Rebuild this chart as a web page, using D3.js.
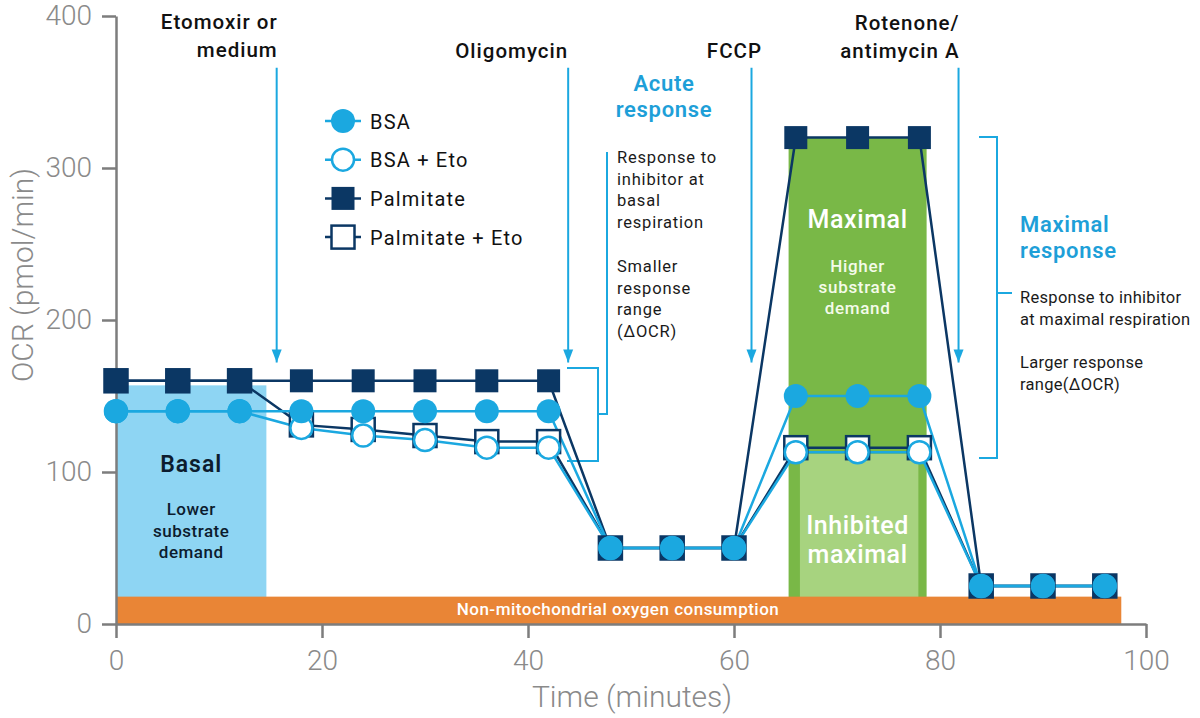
<!DOCTYPE html>
<html><head><meta charset="utf-8">
<script src="https://cdn.jsdelivr.net/npm/d3@7"></script>
<style>
html,body{margin:0;padding:0;background:#fff;}
svg{display:block;font-family:Roboto,"Noto Sans",sans-serif;}
</style></head>
<body>
<svg id="chart" width="1200" height="718"></svg>
<script>
// ---- data ----
const times = [0,6,12,18,24,30,36,42,48,54,60,66,72,78,84,90,96];
const bsa     = [140,140,140,140,140,140,140,140,50,50,50,150,150,150,25,25,25];
const bsaEto  = [140,140,140,129,124,121,116,116,50,50,50,113,113,113,25,25,25];
const palm    = [160,160,160,160,160,160,160,160,50,50,50,320,320,320,25,25,25];
const palmEto = [160,160,160,131,128,124,120,120,50,50,50,116,116,116,25,25,25];
const seriesNames = ["BSA","BSA + Eto","Palmitate","Palmitate + Eto"];
const xTicks = [0,20,40,60,80,100];
const yTicks = [0,100,200,300,400];
// shaded regions: [x0, x1, y0, y1] in data units
const basalRegion = [0, 14.6, 0, 157];
const maximalRegion = [65.3, 78.7, 0, 320];
const inhibitedRegion = [66.4, 77.9, 0, 112];
const nonMitoRegion = [0, 97.6, 0, 18];
// injections: time, label lines
const injTimes = [15.6, 43.9, 61.7, 81.8];
const injLabels = [["Etomoxir or","medium"],["Oligomycin"],["FCCP"],["Rotenone/","antimycin A"]];
const injTop = 366, injTip = 172;

const x = d3.scaleLinear([0,100],[116,1146]);
const y = d3.scaleLinear([0,400],[624,16]);
const svg = d3.select("#chart");

const LB="#1ba8e0", NAVY="#0b3764", AX="#7d7d7d", TX="#8a8a8a";

function rect(r, fill){
  svg.append("rect").attr("x",x(r[0])).attr("y",y(r[3]))
    .attr("width",x(r[1])-x(r[0])).attr("height",y(r[2])-y(r[3])).attr("fill",fill);
}
rect(basalRegion,"#8ed5f3");
rect(maximalRegion,"#79b847");
rect(inhibitedRegion,"#a7d37f");
rect(nonMitoRegion,"#e98536");

// axes
const yAxis = svg.append("g").attr("transform",`translate(${x(0)},0)`)
  .call(d3.axisLeft(y).tickValues(yTicks).tickSize(14).tickSizeOuter(0).tickPadding(10));
const xAxis = svg.append("g").attr("transform",`translate(0,${y(0)})`)
  .call(d3.axisBottom(x).tickValues(xTicks).tickSize(14).tickSizeOuter(0).tickPadding(12));
[yAxis,xAxis].forEach(g=>{
  g.selectAll("path,line").attr("stroke",AX).attr("stroke-width",2.5);
  g.selectAll("text").attr("fill",TX).style("font-size","28px").style("font-weight",300)
   .style("font-family","Roboto");
});
svg.append("text").attr("x",632).attr("y",707).attr("text-anchor","middle")
  .attr("fill",TX).style("font-size","30px").style("font-weight",300).text("Time (minutes)");
svg.append("text").attr("transform","translate(33,275) rotate(-90)").attr("text-anchor","middle")
  .attr("fill",TX).style("font-size","30px").style("font-weight",300).text("OCR (pmol/min)");

function txt(lines, xx, y0, dy, opts){
  const t = svg.append("text").attr("x",xx).attr("y",y0)
    .attr("text-anchor",opts.anchor||"start").attr("fill",opts.fill||"#111")
    .style("font-size",opts.size+"px").style("font-weight",opts.weight||400)
    .style("letter-spacing",(opts.ls||0)+"px");
  lines.forEach((l,i)=>t.append("tspan").attr("x",xx).attr("y",y0+i*dy).text(l));
}

// region labels
const bx = (x(basalRegion[0])+x(basalRegion[1]))/2;
txt(["Basal"], bx, 472, 0, {anchor:"middle", size:23, weight:600, ls:1, fill:"#0c1c2e"});
txt(["Lower","substrate","demand"], bx, 515, 21.5, {anchor:"middle", size:17, weight:500, ls:0.5, fill:"#0c1c2e"});
const gx = (x(maximalRegion[0])+x(maximalRegion[1]))/2;
txt(["Maximal"], gx, 228, 0, {anchor:"middle", size:25, weight:500, ls:0.6, fill:"#fff"});
txt(["Higher","substrate","demand"], gx, 272, 21, {anchor:"middle", size:17, weight:500, ls:0.7, fill:"#f4fbe9"});
txt(["Inhibited","maximal"], gx, 534, 29, {anchor:"middle", size:25, weight:500, ls:0.6, fill:"#fff"});
txt(["Non-mitochondrial oxygen consumption"], 618, 615, 0, {anchor:"middle", size:17, weight:500, ls:0.5, fill:"#fff"});

// injection arrows
injTimes.forEach((t,i)=>{
  svg.append("line").attr("x1",x(t)).attr("x2",x(t)).attr("y1",y(injTop)).attr("y2",y(injTip))
    .attr("stroke",LB).attr("stroke-width",2);
  svg.append("path").attr("d",`M${x(t)-5},${y(injTip)-13} L${x(t)},${y(injTip)} L${x(t)+5},${y(injTip)-13} Z`)
    .attr("fill",LB);
});
const injOpts = {anchor:"end", size:20.5, weight:500, ls:1.0};
txt(injLabels[0], x(injTimes[0])+1, 29, 28, injOpts);
txt(injLabels[1], x(injTimes[1]), 58, 0, injOpts);
txt(injLabels[2], 762, 58, 0, injOpts);
txt(injLabels[3], x(injTimes[3])+1, 30, 28, injOpts);

// brackets
function bracket(xl, xr, yt, yb, ym, xe, ye){
  const p = d3.path();
  p.moveTo(xl,yt); p.lineTo(xr,yt); p.lineTo(xr,yb); p.lineTo(xl,yb);
  p.moveTo(xr,ym); p.lineTo(xe,ym); if(ye!==undefined){p.lineTo(xe,ye);}
  svg.append("path").attr("d",p.toString()).attr("fill","none").attr("stroke",LB).attr("stroke-width",2);
}
bracket(567, 598, 368, 461, 414, 607, 152);
bracket(979, 997, 137, 458, 293, 1012);

const small = {size:16.5, ls:0.8, fill:"#1a1a1a"};
const smallR = {size:16.5, ls:0.3, fill:"#1a1a1a"};
txt(["Acute","response"], 664, 91, 26, {anchor:"middle", size:22, weight:600, ls:0.7, fill:"#1e9fd8"});
txt(["Response to","inhibitor at","basal","respiration"], 617, 163, 21.5, small);
txt(["Smaller","response","range","(ΔOCR)"], 617, 272, 21.5, small);
txt(["Maximal","response"], 1020, 232, 26, {size:22, weight:600, ls:0.7, fill:"#1e9fd8"});
txt(["Response to inhibitor","at maximal respiration"], 1020, 303, 22, smallR);
txt(["Larger response","range(ΔOCR)"], 1020, 368, 22, smallR);

// series (draw order: Palm+Eto, Palm, BSA+Eto, BSA)
const series = {
  bsa:     {name:seriesNames[0], vals:bsa,     color:LB,   shape:"circle", filled:true},
  bsaEto:  {name:seriesNames[1], vals:bsaEto,  color:LB,   shape:"circle", filled:false},
  palm:    {name:seriesNames[2], vals:palm,    color:NAVY, shape:"square", filled:true},
  palmEto: {name:seriesNames[3], vals:palmEto, color:NAVY, shape:"square", filled:false},
};
const drawOrder = [series.palmEto, series.palm, series.bsaEto, series.bsa];
const line = d3.line().x((d,i)=>x(times[i])).y(d=>y(d));
drawOrder.forEach(s=>{
  svg.append("path").attr("d",line(s.vals)).attr("fill","none").attr("stroke",s.color).attr("stroke-width",2.5);
});
function marker(g, cx, cy, s){
  if(s.shape==="square"){
    g.append("rect").attr("x",cx-11.5).attr("y",cy-11.5).attr("width",23).attr("height",23)
      .attr("fill",s.filled?s.color:"#fff").attr("stroke",s.color).attr("stroke-width",s.filled?0:2.5);
  } else {
    g.append("circle").attr("cx",cx).attr("cy",cy).attr("r",s.filled?12:11)
      .attr("fill",s.filled?s.color:"#fff").attr("stroke",s.color).attr("stroke-width",s.filled?0:2.5);
  }
}
drawOrder.forEach(s=>{
  const g = svg.append("g");
  s.vals.forEach((v,i)=>marker(g, x(times[i]), y(v), s));
});

// legend
const legOrder = [series.bsa, series.bsaEto, series.palm, series.palmEto];
legOrder.forEach((s,i)=>{
  const cy = 121 + i*38.7;
  svg.append("line").attr("x1",325).attr("x2",361).attr("y1",cy).attr("y2",cy)
    .attr("stroke",s.color).attr("stroke-width",2.5);
  marker(svg, 343, cy, s);
  svg.append("text").attr("x",370).attr("y",cy+7.5).attr("fill","#111")
    .style("font-size","20px").style("letter-spacing","1.2px").text(s.name);
});
</script>
</body></html>
